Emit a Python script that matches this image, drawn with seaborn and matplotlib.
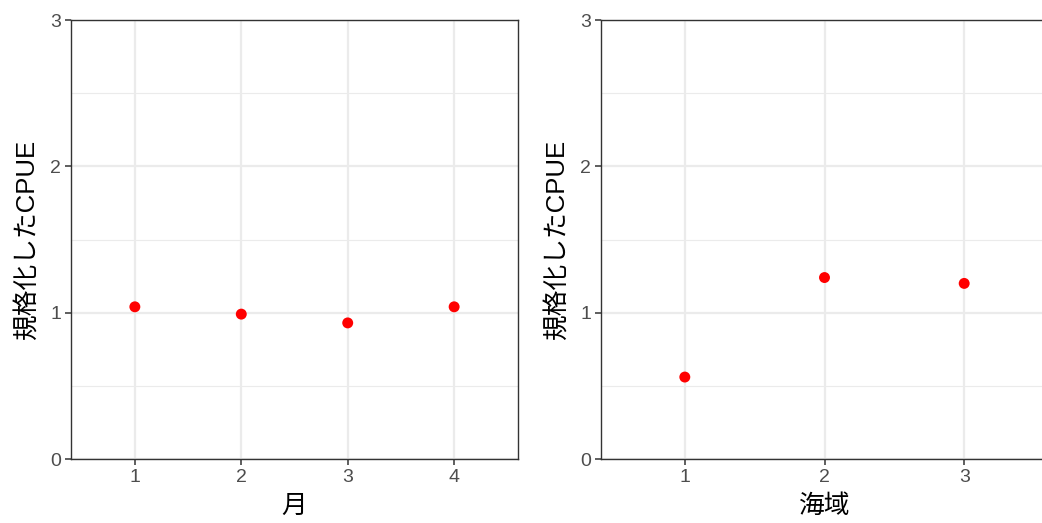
import matplotlib
matplotlib.use("Agg")
import matplotlib.pyplot as plt
import seaborn as sns
import pandas as pd

months = [1, 2, 3, 4]
month_cpue = [1.04, 0.99, 0.93, 1.04]
areas = [1, 2, 3]
area_cpue = [0.56, 1.24, 1.20]
y_ticks = [0, 1, 2, 3]
ylabel = "規格化したCPUE"
xlabel_left = "月"
xlabel_right = "海域"

sns.set_theme(style="white")
plt.rcParams['font.family'] = ['Liberation Sans', 'Noto Sans CJK JP', 'DejaVu Sans']

fig = plt.figure(figsize=(10.42, 5.23), dpi=100)
ax1 = fig.add_axes([71/1042, 1-459/523, 447/1042, 439/523])
ax2 = fig.add_axes([601/1042, 1-459/523, 447/1042, 439/523])

df1 = pd.DataFrame({"x": months, "y": month_cpue})
df2 = pd.DataFrame({"x": areas, "y": area_cpue})

for ax, df, cats, xl in [(ax1, df1, months, xlabel_left), (ax2, df2, areas, xlabel_right)]:
    ax.set_axisbelow(True)
    sns.scatterplot(data=df, x="x", y="y", ax=ax, color="#FF0000", s=62,
                    edgecolor="none", linewidth=0, zorder=3)
    ax.set_xlim(cats[0] - 0.6, cats[-1] + 0.6)
    ax.set_ylim(0, 3)
    ax.set_xticks(cats)
    ax.set_xticklabels([str(c) for c in cats])
    ax.set_yticks(y_ticks)
    ax.set_yticks([0.5, 1.5, 2.5], minor=True)
    ax.grid(True, which="major", color="#EBEBEB", linewidth=1.6)
    ax.grid(True, which="minor", axis="y", color="#EBEBEB", linewidth=0.8)
    ax.tick_params(which="major", length=4, width=1.1, color="#333333",
                   labelcolor="#4D4D4D", labelsize=14, pad=3,
                   bottom=True, left=True)
    ax.tick_params(which="minor", length=0)
    for sp in ax.spines.values():
        sp.set_color("#333333")
        sp.set_linewidth(1.0)
    ax.set_xlabel(xl, fontsize=18.5, color="black", labelpad=6)
    ax.set_ylabel(ylabel, fontsize=18.5, color="black", labelpad=8)

fig.savefig("out.png", dpi=100)
